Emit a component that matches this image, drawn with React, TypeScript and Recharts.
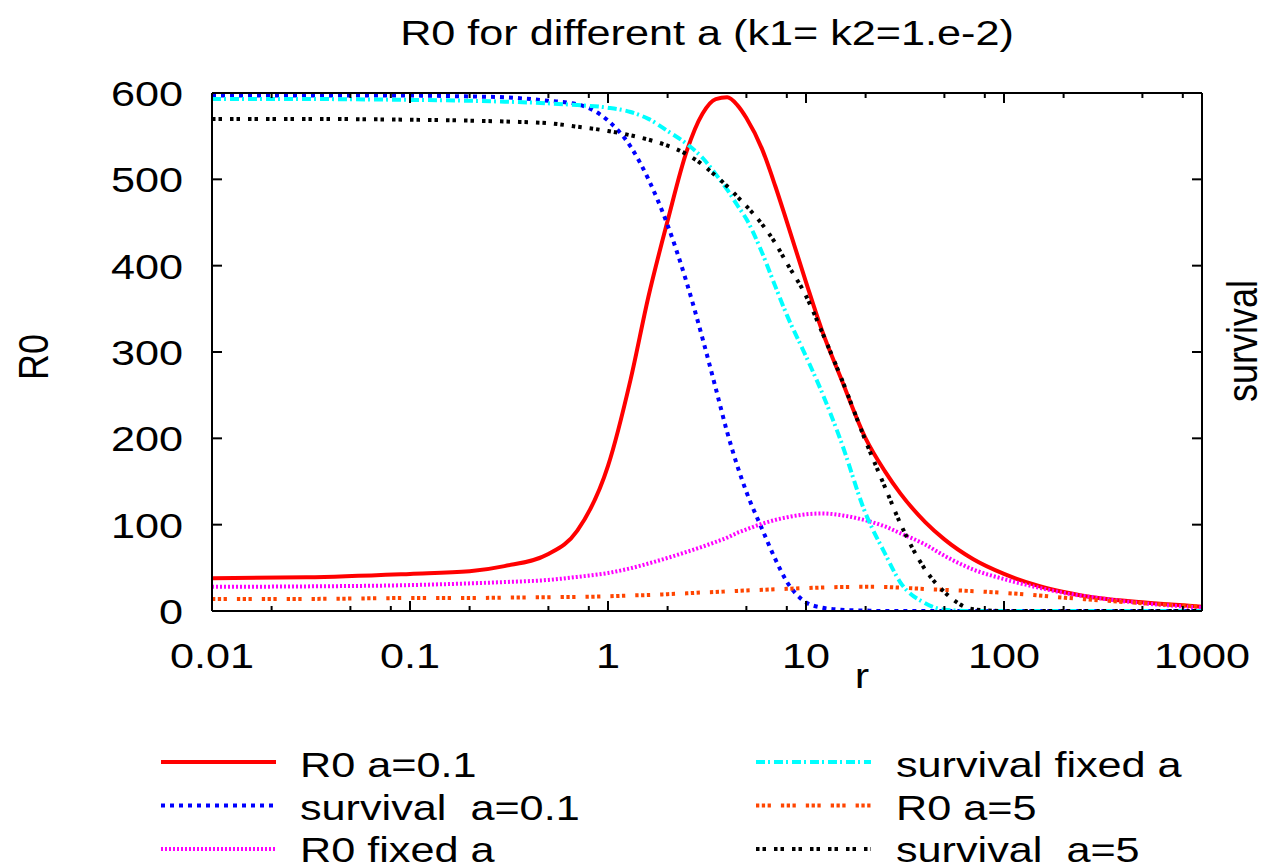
import React from 'react';
import { LineChart, Line, XAxis, YAxis, Legend } from 'recharts';

// ---------------- data ----------------
const rValues = [0.01, 0.03, 0.1, 0.2, 0.3, 0.5, 0.7, 1, 1.3, 1.6, 2, 2.5, 3, 3.5, 4, 4.5, 5, 6, 7, 8, 10, 12, 15, 20, 25, 30, 40, 50, 70, 100, 150, 200, 300, 500, 1000];

const r0A01 = [38, 39, 43, 46, 52, 66, 93, 168, 268, 364, 452, 533, 576, 593, 595, 586, 571, 535, 492, 451, 381, 326, 270, 200, 162, 136, 103, 83, 60, 43, 29, 22, 15, 10, 5];
const survivalA01 = [597, 597, 597, 596, 595, 591, 587, 568, 538, 500, 447, 380, 316, 258, 207, 168, 138, 95, 60, 34, 10, 4, 1.5, 0.5, 0, 0, 0, 0, 0, 0, 0, 0, 0, 0, 0];
const r0Fixed = [28, 28.5, 30, 32, 33.5, 36, 39.5, 44, 49.5, 55, 61.5, 68.5, 74.5, 80, 85, 90.5, 94.5, 101, 105.5, 108.5, 112, 113, 111, 105, 98, 90, 77, 64, 48, 37, 27, 21, 15, 9, 4];
const survivalFixed = [593, 593, 592, 591, 590, 588, 586, 583, 578, 570, 556, 541, 525, 506, 488, 470, 454, 415, 376, 343, 295, 254, 197, 113, 67, 33, 9, 1.5, 0, 0, 0, 0, 0, 0, 0];
const r0A5 = [14, 14, 15, 15, 15.5, 16, 16.3, 17, 18, 18.5, 19.5, 20.5, 21.5, 22, 22.7, 23.3, 23.8, 24.5, 25.2, 25.7, 26.5, 27.2, 27.8, 28, 27.8, 27, 25.5, 24.5, 23, 21, 18, 15.5, 12.5, 9, 5];
const survivalA5 = [570, 570, 569, 568, 567, 565, 561, 556, 551, 546, 539, 529, 517, 504, 492, 480, 469, 448, 426, 403, 365, 324, 271, 197, 144, 101, 48, 22, 2, 0, 0, 0, 0, 0, 0];

const xTicks = [0.01, 0.02, 0.05, 0.08, 0.1, 0.2, 0.5, 0.8, 1, 2, 5, 8, 10, 20, 50, 80, 100, 200, 500, 800, 1000];
const yTicks = [0, 100, 200, 300, 400, 500, 600];

const titleText = 'R0 for different a (k1= k2=1.e-2)';
const xLabel = 'r';
const yLabel = 'R0';
const y2Label = 'survival';

const SERIES = [
  { key: 'r0A01', name: 'R0 a=0.1', color: '#ff0000', dash: undefined as string | undefined },
  { key: 'survivalA01', name: 'survival  a=0.1', color: '#0000ff', dash: '4 5' },
  { key: 'r0Fixed', name: 'R0 fixed a', color: '#ff00ff', dash: '2 2' },
  { key: 'survivalFixed', name: 'survival fixed a', color: '#00ffff', dash: '9 3 2 4' },
  { key: 'r0A5', name: 'R0 a=5', color: '#ff4500', dash: '3.3 2.5 3.3 2.5 3.3 10' },
  { key: 'survivalA5', name: 'survival  a=5', color: '#000000', dash: '3.5 3 3.5 8' },
];

const rows = rValues.map((r, i) => ({
  r,
  r0A01: r0A01[i],
  survivalA01: survivalA01[i],
  r0Fixed: r0Fixed[i],
  survivalFixed: survivalFixed[i],
  r0A5: r0A5[i],
  survivalA5: survivalA5[i],
}));

// ---------------- style ----------------
const FONT = '"Liberation Sans", Arial, Helvetica, sans-serif';
const FS = 36;
const SX = 1.2;
const W = 1263;
const H = 867;

const isMajor = (v: number) => Math.abs(Math.log10(v) - Math.round(Math.log10(v))) < 1e-6;

const txtProps = { fontFamily: FONT, fontSize: FS, fill: '#000', style: { whiteSpace: 'pre' as const } };

const BottomTick = (props: any) => {
  const { x, y, payload } = props;
  const v = payload.value;
  const major = isMajor(v);
  return (
    <g>
      <line x1={x} y1={y} x2={x} y2={y - (major ? 10 : 5)} stroke="#000" strokeWidth={2} />
      {major && (
        <text transform={`translate(${x},${y + 57}) scale(${SX},1)`} textAnchor="middle" {...txtProps}>
          {String(v)}
        </text>
      )}
    </g>
  );
};

const TopTick = (props: any) => {
  const { x, y, payload } = props;
  const major = isMajor(payload.value);
  return <line x1={x} y1={y} x2={x} y2={y + (major ? 10 : 5)} stroke="#000" strokeWidth={2} />;
};

const LeftTick = (props: any) => {
  const { x, y, payload } = props;
  return (
    <g>
      <line x1={x} y1={y} x2={x + 10} y2={y} stroke="#000" strokeWidth={2} />
      <text transform={`translate(${x - 29},${y + 13}) scale(${SX},1)`} textAnchor="end" {...txtProps}>
        {String(payload.value)}
      </text>
    </g>
  );
};

const RightTick = (props: any) => {
  const { x, y } = props;
  return <line x1={x} y1={y} x2={x - 10} y2={y} stroke="#000" strokeWidth={2} />;
};

const renderLegend = () => (
  <svg width={W} height={137} style={{ display: 'block' }}>
    {SERIES.map((s, i) => {
      const col = i < 3 ? 0 : 1;
      const row = i % 3;
      const ly = 32 + row * 43.5;
      const by = 47 + row * 42.5;
      const x1 = col === 0 ? 161 : 756;
      const x2 = col === 0 ? 276 : 871;
      const tx = col === 0 ? 300 : 896;
      return (
        <g key={s.key}>
          <line x1={x1} y1={ly} x2={x2} y2={ly} stroke={s.color} strokeWidth={4} strokeDasharray={s.dash} />
          <text transform={`translate(${tx},${by}) scale(${SX},1)`} {...txtProps}>
            {s.name}
          </text>
        </g>
      );
    })}
  </svg>
);

export default function App() {
  return (
    <div style={{ position: 'absolute', left: 0, top: 0, width: W, height: H, background: '#fff', overflow: 'hidden' }}>
      <LineChart width={W} height={H} data={rows} margin={{ top: 92, right: 60, bottom: 255, left: 211 }}>
        <XAxis
          xAxisId="b"
          dataKey="r"
          type="number"
          scale="log"
          domain={[0.01, 1000]}
          ticks={xTicks}
          interval={0}
          allowDataOverflow
          orientation="bottom"
          height={1}
          tickLine={false}
          tickSize={0}
          tickMargin={0}
          axisLine={{ stroke: '#000', strokeWidth: 2 }}
          tick={<BottomTick />}
        />
        <XAxis
          xAxisId="t"
          dataKey="r"
          type="number"
          scale="log"
          domain={[0.01, 1000]}
          ticks={xTicks}
          interval={0}
          allowDataOverflow
          orientation="top"
          height={1}
          tickLine={false}
          tickSize={0}
          tickMargin={0}
          axisLine={{ stroke: '#000', strokeWidth: 2 }}
          tick={<TopTick />}
        />
        <YAxis
          yAxisId="l"
          type="number"
          domain={[0, 600]}
          ticks={yTicks}
          interval={0}
          allowDataOverflow
          orientation="left"
          width={1}
          tickLine={false}
          tickSize={0}
          tickMargin={0}
          axisLine={{ stroke: '#000', strokeWidth: 2 }}
          tick={<LeftTick />}
        />
        <YAxis
          yAxisId="r"
          type="number"
          domain={[0, 600]}
          ticks={yTicks}
          interval={0}
          allowDataOverflow
          orientation="right"
          width={1}
          tickLine={false}
          tickSize={0}
          tickMargin={0}
          axisLine={{ stroke: '#000', strokeWidth: 2 }}
          tick={<RightTick />}
        />
        <Legend
          content={renderLegend}
          layout="horizontal"
          verticalAlign="middle"
          align="center"
          wrapperStyle={{ position: 'absolute', left: 0, top: 730, width: W, height: 137 }}
        />
        {SERIES.map((s) => (
          <Line
            key={s.key}
            xAxisId="b"
            yAxisId="l"
            dataKey={s.key}
            name={s.name}
            type="monotone"
            stroke={s.color}
            strokeWidth={4}
            strokeDasharray={s.dash}
            dot={false}
            activeDot={false}
            isAnimationActive={false}
          />
        ))}
      </LineChart>
      <svg width={W} height={H} style={{ position: 'absolute', left: 0, top: 0, pointerEvents: 'none' }}>
        <text transform={`translate(707,45) scale(${SX},1)`} textAnchor="middle" {...txtProps}>
          {titleText}
        </text>
        <text transform={`translate(862,688) scale(${SX},1)`} textAnchor="middle" {...txtProps}>
          {xLabel}
        </text>
        <text transform={`translate(48,357) scale(${SX},1) rotate(-90)`} textAnchor="middle" {...txtProps}>
          {yLabel}
        </text>
        <text transform={`translate(1257,341) scale(${SX},1) rotate(-90)`} textAnchor="middle" {...txtProps}>
          {y2Label}
        </text>
      </svg>
    </div>
  );
}
